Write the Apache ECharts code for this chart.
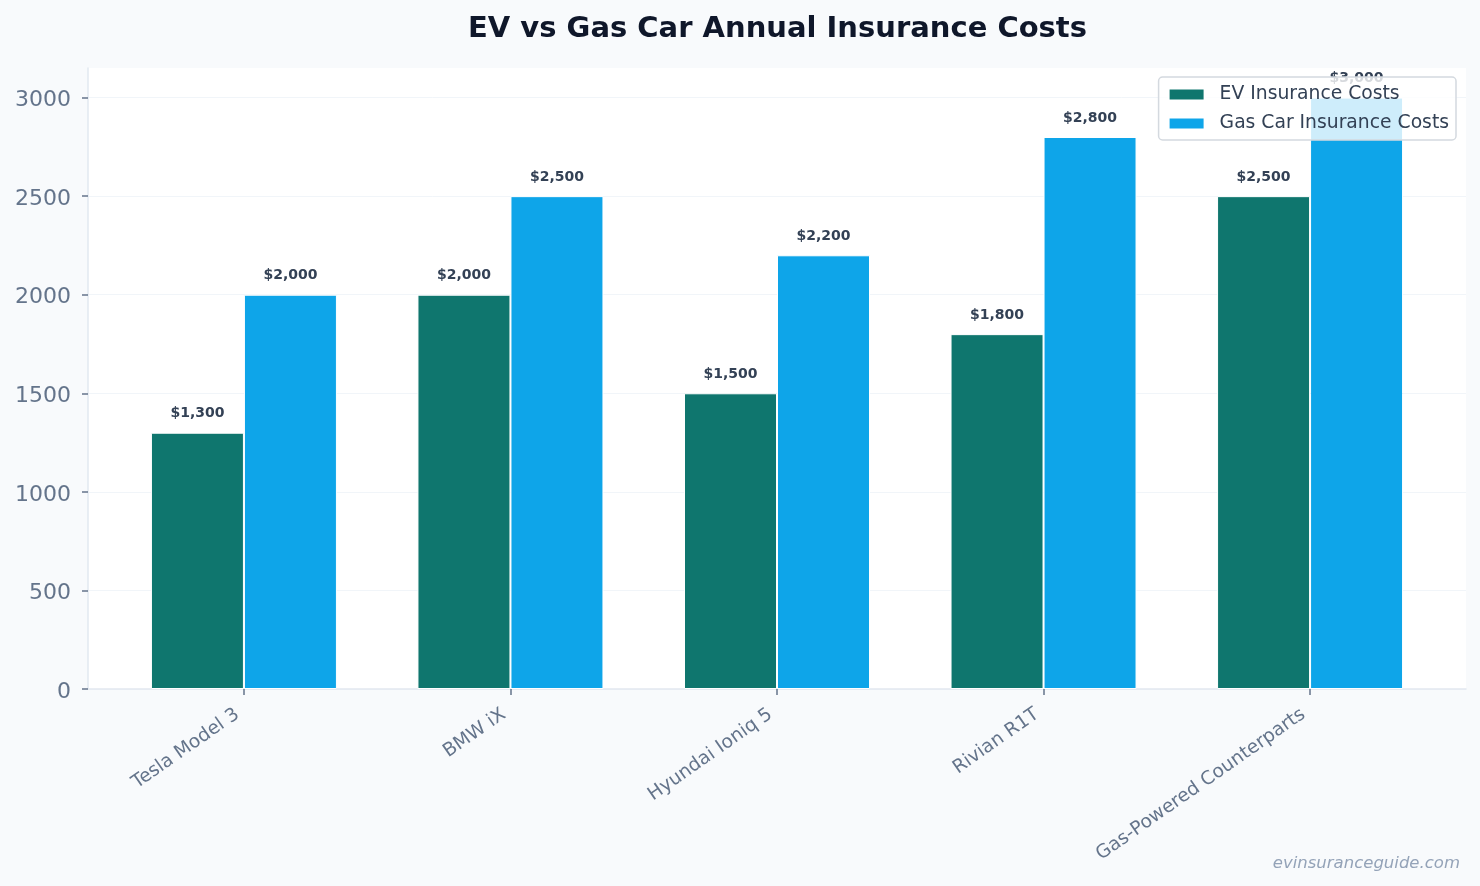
<!DOCTYPE html>
<html>
<head>
<meta charset="utf-8">
<script src="https://cdn.jsdelivr.net/npm/echarts@6/dist/echarts.min.js"></script>
<style>
html,body{margin:0;padding:0;background:#f8fafc;}
#chart{width:1480px;height:886px;}
</style>
</head>
<body>
<div id="chart"></div>
<script>
const categories = ['Tesla Model 3', 'BMW iX', 'Hyundai Ioniq 5', 'Rivian R1T', 'Gas-Powered Counterparts'];
const evCosts = [1300, 2000, 1500, 1800, 2500];
const gasCosts = [2000, 2500, 2200, 2800, 3000];
const seriesNames = ['EV Insurance Costs', 'Gas Car Insurance Costs'];
const yTicks = [0, 500, 1000, 1500, 2000, 2500, 3000];

const chart = echarts.init(document.getElementById('chart'), null, {renderer: 'canvas'});
const font = 'DejaVu Sans';
const fmt = v => '$' + v.toLocaleString('en-US');
const idx = categories.map((c, i) => i);

function labelCfg() {
  return {
    show: true, position: 'top', distance: 12,
    formatter: p => fmt(p.value[1]),
    fontFamily: font, fontSize: 14, fontWeight: 'bold', color: '#334155'
  };
}

chart.setOption({
  backgroundColor: '#f8fafc',
  animation: false,
  title: {
    text: 'EV vs Gas Car Annual Insurance Costs',
    left: 463, top: 10,
    textStyle: {fontFamily: font, fontSize: 29, fontWeight: 'bold', color: '#0f172a'}
  },
  legend: {
    orient: 'vertical', right: 24, top: 77,
    padding: [8, 7, 7, 9],
    icon: 'rect',
    itemWidth: 36, itemHeight: 12, itemGap: 10,
    backgroundColor: 'rgba(255,255,255,0.8)',
    borderColor: '#d4d9df', borderWidth: 1.5, borderRadius: 4,
    textStyle: {fontFamily: font, fontSize: 18.75, color: '#334155', padding: [0, 0, 0, 10]},
    data: seriesNames
  },
  grid: {
    left: 88, right: 14, top: 68, bottom: 197,
    show: true, backgroundColor: '#ffffff', borderWidth: 0
  },
  xAxis: {
    type: 'value', min: -0.585, max: 4.585,
    splitLine: {show: false},
    axisLine: {show: true, onZero: false, lineStyle: {color: '#e2e8f0', width: 1.5}},
    axisTick: {show: true, customValues: idx, length: 6, lineStyle: {color: '#64748b', width: 1.5}},
    axisLabel: {
      customValues: idx, rotate: 35, margin: 19, padding: [0, 8, 0, 0],
      formatter: v => categories[Math.round(v)],
      fontFamily: font, fontSize: 18.7, color: '#64748b'
    }
  },
  yAxis: {
    type: 'value', min: 0, max: 3150, interval: 500,
    axisLine: {show: true, onZero: false, lineStyle: {color: '#e2e8f0', width: 1.5}},
    axisTick: {show: true, customValues: yTicks, length: 6, lineStyle: {color: '#64748b', width: 1.5}},
    axisLabel: {
      customValues: yTicks, margin: 17,
      formatter: v => '{s| }\n{a|' + v + '}',
      rich: {
        s: {fontSize: 1, lineHeight: 6},
        a: {fontFamily: font, fontSize: 22, color: '#64748b', lineHeight: 26}
      },
      fontFamily: font, fontSize: 22, color: '#64748b'
    },
    splitLine: {show: true, lineStyle: {color: '#f1f5f9', width: 1}}
  },
  series: [
    {
      name: seriesNames[0], type: 'bar', barWidth: 93, barGap: '0%',
      data: evCosts.map((v, i) => [i, v]),
      itemStyle: {color: '#0f766e', borderColor: '#ffffff', borderWidth: 1},
      label: labelCfg()
    },
    {
      name: seriesNames[1], type: 'bar', barWidth: 93, barGap: '0%',
      data: gasCosts.map((v, i) => [i, v]),
      itemStyle: {color: '#0ea5e9', borderColor: '#ffffff', borderWidth: 1},
      label: labelCfg()
    }
  ],
  graphic: [{
    type: 'text', right: 20, bottom: 14,
    style: {text: 'evinsuranceguide.com', fontFamily: font, fontSize: 16.5, fontStyle: 'italic', fill: '#94a3b8'}
  }]
});
</script>
</body>
</html>
